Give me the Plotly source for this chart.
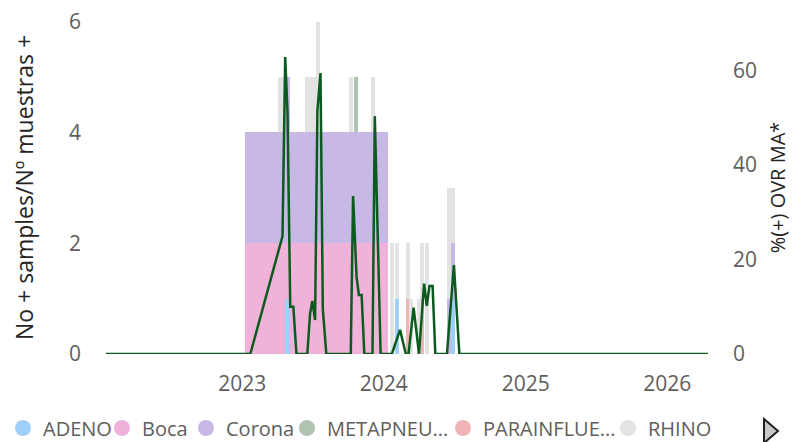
import plotly.graph_objects as go

# ---------------- data ----------------
series_names = ["ADENO", "Boca", "Corona", "METAPNEU...", "PARAINFLUE...", "RHINO"]
series_colors = ["#A0CFFA", "#F0B2D8", "#C8B8E6", "#AFC3B0", "#EEB4B6", "#E3E3E3"]

# weekly positive samples
week_dates = ["2023-04-09", "2023-04-16", "2023-04-28", "2023-06-17", "2023-06-26",
              "2023-07-06", "2023-07-15", "2023-10-09", "2023-10-21", "2023-12-05",
              "2024-01-22", "2024-02-04", "2024-03-03", "2024-03-12", "2024-04-01",
              "2024-04-09", "2024-04-21", "2024-06-18", "2024-06-28"]
adeno      = [0, 0, 1, 0, 0, 0, 0, 0, 0, 0, 0, 1, 0, 0, 0, 0, 0, 0, 1]
corona_wk  = [0, 0, 4, 0, 0, 0, 0, 0, 0, 0, 0, 0, 0, 0, 0, 0, 0, 1, 1]
metapneu   = [0, 0, 0, 0, 0, 0, 0, 0, 5, 0, 0, 0, 0, 0, 0, 0, 0, 0, 0]
parainflue = [0, 0, 0, 0, 0, 0, 0, 0, 0, 0, 0, 0, 1, 0, 0, 1, 0, 0, 0]
rhino      = [5, 5, 0, 5, 5, 5, 6, 5, 0, 5, 2, 1, 1, 1, 1, 1, 2, 2, 1]

# yearly blocks (Boca / Corona)
year_start = "2023-01-09"
year_days = 368
boca_year = [2]
corona_year = [2]

# line: %(+) OVR MA*
line_dates = ["2022-01-15", "2023-01-22", "2023-04-15", "2023-04-22", "2023-04-28",
              "2023-05-05", "2023-05-13", "2023-05-21", "2023-06-18", "2023-06-25",
              "2023-07-01", "2023-07-08", "2023-07-14", "2023-07-22", "2023-07-28",
              "2023-08-06", "2023-10-08", "2023-10-14", "2023-10-23", "2023-10-29",
              "2023-11-05", "2023-11-12", "2023-12-03", "2023-12-09", "2023-12-24",
              "2024-01-22", "2024-02-12", "2024-02-27", "2024-03-05", "2024-03-18",
              "2024-04-01", "2024-04-14", "2024-04-21", "2024-04-28", "2024-05-06",
              "2024-05-13", "2024-06-12", "2024-06-30", "2024-07-14", "2026-04-16"]
line_vals = [0, 0, 24.9, 62.8, 51, 10, 10, 0, 0, 8.5,
             11.2, 7.2, 51.5, 59.4, 9.5, 0, 0, 33.4, 16.3, 12.5,
             12.5, 0, 0, 50.3, 0, 0, 5.1, 0, 0, 9.8,
             0, 14.9, 10.2, 14.4, 14.4, 0, 0, 18.8, 0, 0]

y_ticks = [0, 2, 4, 6]
y2_ticks = [0, 20, 40, 60]
x_ticks = ["2023-01-01", "2024-01-01", "2025-01-01", "2026-01-01"]
x_tick_text = ["2023", "2024", "2025", "2026"]

# ---------------- layout constants ----------------
W, H = 803, 442
OFF = 8                      # page body margin
L = 106 - OFF
T = 21 - OFF
R = W - (708 - OFF)
B = H - (354 - OFF)
PW, PH = W - L - R, H - T - B
DAY_MS = 86400000
BAR_W = 11 * DAY_MS
FONT = "Segoe UI, Open Sans, sans-serif"
TICK_COLOR = "#605E5C"
TITLE_COLOR = "#252423"
TICK_SIZE = 21
LEGEND_SIZE = 20

# legend item left positions (screen pixels) and vertical centre
legend_px = [3, 102, 186, 287, 443, 608]
legend_py = 428

def pxx(px):
    return (px - OFF - L) / PW

def pxy(py):
    return (H - B - (py - OFF)) / PH

fig = go.Figure()

weekly = {"ADENO": adeno, "Corona": corona_wk, "METAPNEU...": metapneu,
          "PARAINFLUE...": parainflue, "RHINO": rhino}
order = ["ADENO", "Corona", "METAPNEU...", "PARAINFLUE...", "RHINO"]
bases = {}
cum = [0] * len(week_dates)
for nm in order:
    bases[nm] = list(cum)
    cum = [c + v for c, v in zip(cum, weekly[nm])]

color_of = dict(zip(series_names, series_colors))

def weekly_trace(nm):
    xs, ys, bs = [], [], []
    for d, v, b in zip(week_dates, weekly[nm], bases[nm]):
        if v:
            xs.append(d); ys.append(v); bs.append(b)
    return go.Bar(x=xs, y=ys, base=bs, width=[BAR_W] * len(xs),
                  marker=dict(color=color_of[nm], line=dict(width=0)),
                  name=nm, showlegend=False, yaxis="y")

for nm in ["Corona", "METAPNEU...", "PARAINFLUE...", "RHINO"]:
    fig.add_trace(weekly_trace(nm))

fig.add_trace(go.Bar(x=[year_start], y=boca_year, base=[0], width=[year_days * DAY_MS],
                     offset=0, marker=dict(color=color_of["Boca"], line=dict(width=0)),
                     name="Boca", showlegend=False))
fig.add_trace(go.Bar(x=[year_start], y=corona_year, base=boca_year, width=[year_days * DAY_MS],
                     offset=0, marker=dict(color=color_of["Corona"], line=dict(width=0)),
                     name="Corona", showlegend=False))

fig.add_trace(weekly_trace("ADENO"))

fig.add_trace(go.Scatter(x=line_dates, y=line_vals, mode="lines", yaxis="y2",
                         line=dict(color="#0B5A1E", width=2.5), showlegend=False,
                         name="%(+) OVR MA*"))

legend_layouts = {}
for i, (nm, c, lx) in enumerate(zip(series_names, series_colors, legend_px)):
    key = "legend" if i == 0 else f"legend{i + 1}"
    fig.add_trace(go.Scatter(x=[None], y=[None], mode="markers", name=nm, legend=key,
                             marker=dict(symbol="circle", size=16, color=c)))
    legend_layouts[key] = dict(orientation="h", x=pxx(lx), y=pxy(legend_py),
                               xanchor="left", yanchor="middle",
                               font=dict(family=FONT, size=LEGEND_SIZE, color=TICK_COLOR),
                               itemclick=False, itemdoubleclick=False,
                               bgcolor="rgba(0,0,0,0)", borderwidth=0)

fig.add_shape(type="path", xref="paper", yref="paper",
              path=f"M {pxx(764)} {pxy(419)} L {pxx(778)} {pxy(431)} L {pxx(764)} {pxy(443)} Z",
              fillcolor="#C8C8C8", line=dict(color="#222222", width=2))

fig.update_layout(
    width=W, height=H,
    margin=dict(l=L, r=R, t=T, b=B, pad=0, autoexpand=False),
    paper_bgcolor="white", plot_bgcolor="white",
    barmode="overlay", bargap=0,
    font=dict(family=FONT, size=TICK_SIZE, color=TICK_COLOR),
    showlegend=True,
    xaxis=dict(type="date", range=["2022-01-15", "2026-04-16"], tickvals=x_ticks,
               ticktext=x_tick_text, showgrid=False, zeroline=False, showline=False,
               ticks="", ticklabelstandoff=15, automargin=False,
               tickfont=dict(size=TICK_SIZE, color=TICK_COLOR)),
    yaxis=dict(range=[0, 6.01], tickvals=y_ticks, showgrid=False, zeroline=False,
               showline=False, ticks="", ticklabelstandoff=24, automargin=False,
               ticklabeloverflow="allow",
               tickfont=dict(size=TICK_SIZE, color=TICK_COLOR),
               title=dict(text="No + samples/Nº muestras +", standoff=30,
                          font=dict(size=23, color=TITLE_COLOR))),
    yaxis2=dict(range=[0, 70.42], tickvals=y2_ticks, overlaying="y", side="right",
                showgrid=False, zeroline=False, showline=False, ticks="",
                ticklabelstandoff=24, automargin=False,
                tickfont=dict(size=TICK_SIZE, color=TICK_COLOR),
                title=dict(text="%(+) OVR MA*", standoff=14,
                           font=dict(size=20, color=TITLE_COLOR))),
    **legend_layouts,
)

fig.write_html("out.html")
